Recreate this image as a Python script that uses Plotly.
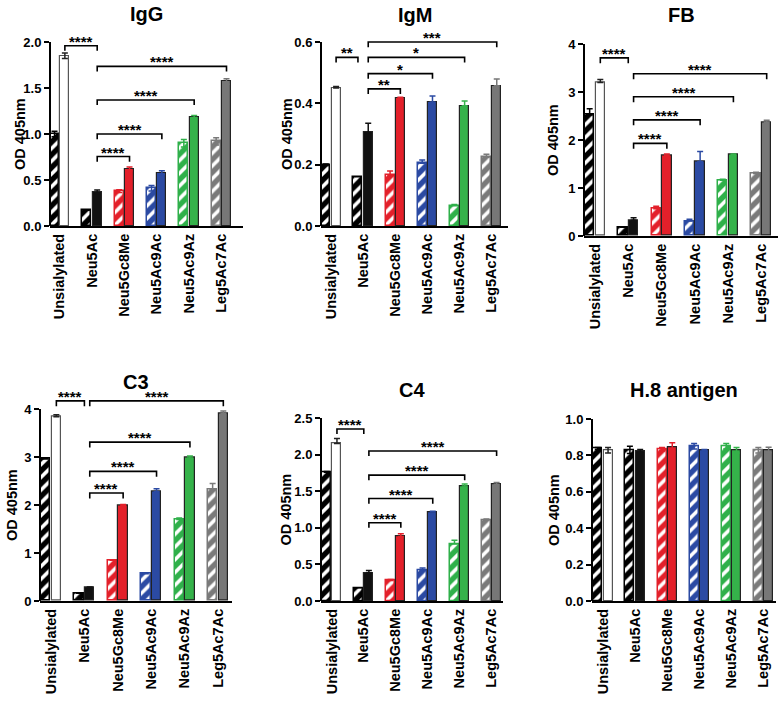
import plotly.graph_objects as go

categories = ["Unsialylated", "Neu5Ac", "Neu5Gc8Me", "Neu5Ac9Ac", "Neu5Ac9Az", "Leg5Ac7Ac"]

# ---------------- data ----------------
igg_hatched = [1.00, 0.17, 0.38, 0.41, 0.90, 0.92]
igg_hatched_err = [0.03, 0.0, 0.015, 0.03, 0.04, 0.04]
igg_solid = [1.85, 0.37, 0.62, 0.58, 1.18, 1.57]
igg_solid_err = [0.03, 0.02, 0.02, 0.02, 0.02, 0.03]
igg_yticks = [0.0, 0.5, 1.0, 1.5, 2.0]
igg_brackets = [(0, "s", 1, "s", 1.96, "****"), (1, "s", 5, "s", 1.735, "****"),
                (1, "s", 4, "s", 1.37, "****"), (1, "s", 3, "s", 1.0, "****"),
                (1, "s", 2, "s", 0.755, "****")]

igm_hatched = [0.197, 0.161, 0.167, 0.205, 0.066, 0.224]
igm_hatched_err = [0.005, 0.0, 0.012, 0.01, 0.004, 0.01]
igm_solid = [0.450, 0.305, 0.417, 0.404, 0.392, 0.457]
igm_solid_err = [0.005, 0.03, 0.003, 0.02, 0.016, 0.022]
igm_yticks = [0.0, 0.2, 0.4, 0.6]
igm_brackets = [(0, "s", 1, "h", 0.55, "**"), (1, "s", 5, "s", 0.60, "***"),
                (1, "s", 4, "s", 0.55, "*"), (1, "s", 3, "s", 0.497, "*"),
                (1, "s", 2, "s", 0.447, "**")]

fb_hatched = [2.52, 0.18, 0.57, 0.31, 1.16, 1.30]
fb_hatched_err = [0.13, 0.0, 0.05, 0.04, 0.02, 0.03]
fb_solid = [3.20, 0.33, 1.67, 1.55, 1.69, 2.37]
fb_solid_err = [0.06, 0.05, 0.04, 0.21, 0.02, 0.04]
fb_yticks = [0, 1, 2, 3, 4]
fb_brackets = [(0, "s", 1, "c", 3.71, "****"), (1, "s", 5, "s", 3.38, "****"),
               (1, "s", 4, "s", 2.90, "****"), (1, "s", 3, "s", 2.42, "****"),
               (1, "s", 2, "s", 1.93, "****")]

c3_hatched = [2.96, 0.16, 0.85, 0.57, 1.70, 2.32]
c3_hatched_err = [0.02, 0.0, 0.01, 0.01, 0.03, 0.13]
c3_solid = [3.84, 0.29, 1.99, 2.28, 2.98, 3.91]
c3_solid_err = [0.04, 0.0, 0.02, 0.06, 0.04, 0.05]
c3_yticks = [0, 1, 2, 3, 4]
c3_brackets = [(0, "s", 1, "c", 4.17, "****"), (1, "s", 5, "s", 4.17, "****"),
               (1, "s", 4, "s", 3.31, "****"), (1, "s", 3, "s", 2.70, "****"),
               (1, "s", 2, "s", 2.25, "****")]

c4_hatched = [1.76, 0.18, 0.28, 0.42, 0.78, 1.11]
c4_hatched_err = [0.01, 0.0, 0.015, 0.03, 0.05, 0.01]
c4_solid = [2.15, 0.385, 0.88, 1.22, 1.57, 1.59]
c4_solid_err = [0.07, 0.03, 0.04, 0.005, 0.03, 0.03]
c4_yticks = [0.0, 0.5, 1.0, 1.5, 2.0, 2.5]
c4_brackets = [(0, "s", 1, "c", 2.35, "****"), (1, "s", 5, "s", 2.05, "****"),
               (1, "s", 4, "s", 1.72, "****"), (1, "s", 3, "s", 1.40, "****"),
               (1, "s", 2, "s", 1.07, "****")]

h8_hatched = [0.838, 0.830, 0.834, 0.850, 0.850, 0.828]
h8_hatched_err = [0.005, 0.02, 0.01, 0.015, 0.015, 0.015]
h8_solid = [0.828, 0.825, 0.845, 0.828, 0.828, 0.830]
h8_solid_err = [0.015, 0.008, 0.025, 0.004, 0.015, 0.015]
h8_yticks = [0.0, 0.2, 0.4, 0.6, 0.8, 1.0]
h8_brackets = []

# ---------------- styles / layout ----------------
W, H = 782, 701
FONT = "Liberation Sans, Arial, sans-serif"
hatch_colors = ["#000000", "#000000", "#e3202a", "#2b4aa3", "#2fb04a", "#7a7a7a"]
solid_colors = ["#ffffff", "#111111", "#e3202a", "#2b4aa3", "#35b24a", "#777777"]
HATCH_OFF, SOLID_OFF, BAR_W = -0.30, 0.02, 0.28
side_x = {"h": HATCH_OFF + BAR_W / 2, "s": SOLID_OFF + BAR_W / 2, "c": 0.0}
EXT = 1.07

panels = [
    dict(title="IgG", h=igg_hatched, he=igg_hatched_err, s=igg_solid, se=igg_solid_err,
         yt=igg_yticks, br=igg_brackets, fmt=".1f", sym=True,
         px=(50, 243), py0=226, pytop=42, xr=(-0.30, 5.67), toff=30, title_y=14),
    dict(title="IgM", h=igm_hatched, he=igm_hatched_err, s=igm_solid, se=igm_solid_err,
         yt=igm_yticks, br=igm_brackets, fmt=".1f", sym=False,
         px=(321, 508), py0=226, pytop=42, xr=(-0.31, 5.51), toff=34, title_y=15),
    dict(title="FB", h=fb_hatched, he=fb_hatched_err, s=fb_solid, se=fb_solid_err,
         yt=fb_yticks, br=fb_brackets, fmt="d", sym=False,
         px=(584, 778), py0=236, pytop=44, xr=(-0.33, 5.50), toff=31, title_y=15),
    dict(title="C3", h=c3_hatched, he=c3_hatched_err, s=c3_solid, se=c3_solid_err,
         yt=c3_yticks, br=c3_brackets, fmt="d", sym=False,
         px=(40, 232), py0=601, pytop=409, xr=(-0.33, 5.42), toff=28, title_y=382),
    dict(title="C4", h=c4_hatched, he=c4_hatched_err, s=c4_solid, se=c4_solid_err,
         yt=c4_yticks, br=c4_brackets, fmt=".1f", sym=False,
         px=(321, 503), py0=601, pytop=418, xr=(-0.34, 5.36), toff=36, title_y=390),
    dict(title="H.8 antigen", h=h8_hatched, he=h8_hatched_err, s=h8_solid, se=h8_solid_err,
         yt=h8_yticks, br=h8_brackets, fmt=".1f", sym=True,
         px=(592, 776), py0=601, pytop=419, xr=(-0.34, 5.39), toff=38, title_y=390),
]

fig = go.Figure()
layout = dict(width=W, height=H, margin=dict(l=0, r=0, t=0, b=0, autoexpand=False),
              paper_bgcolor="white", plot_bgcolor="white", showlegend=False,
              font=dict(family=FONT, color="black"), bargap=0)
shapes, annotations = [], []

for i, p in enumerate(panels, start=1):
    xa = "x" if i == 1 else f"x{i}"
    ya = "y" if i == 1 else f"y{i}"
    xkey = "xaxis" if i == 1 else f"xaxis{i}"
    ykey = "yaxis" if i == 1 else f"yaxis{i}"
    ytop = p["yt"][-1]
    for g in range(len(categories)):
        # hatched bar
        fig.add_trace(go.Bar(
            x=[g], y=[p["h"][g]], xaxis=xa, yaxis=ya, offset=HATCH_OFF, width=BAR_W,
            marker=dict(color="white",
                        pattern=dict(shape="/", fgcolor=hatch_colors[g], bgcolor="white",
                                     fgopacity=1, size=9, solidity=0.6),
                        line=dict(color=hatch_colors[g], width=1.5)),
            error_y=dict(type="data", array=[p["he"][g]],
                         arrayminus=[p["he"][g] if p["sym"] else 0], symmetric=False,
                         color=hatch_colors[g], thickness=1.5, width=3),
            hoverinfo="skip"))
        # solid bar
        line_c = "#555555" if solid_colors[g] == "#ffffff" else "#222222"
        fig.add_trace(go.Bar(
            x=[g], y=[p["s"][g]], xaxis=xa, yaxis=ya, offset=SOLID_OFF, width=BAR_W,
            marker=dict(color=solid_colors[g], line=dict(color=line_c, width=1.2)),
            error_y=dict(type="data", array=[p["se"][g]],
                         arrayminus=[p["se"][g] if p["sym"] else 0], symmetric=False,
                         color=("#222222" if solid_colors[g] == "#ffffff" else solid_colors[g]),
                         thickness=1.5, width=3),
            hoverinfo="skip"))

    x0f, x1f = p["px"][0] / W, p["px"][1] / W
    yb = 1 - p["py0"] / H
    yt_px = p["py0"] - (p["py0"] - p["pytop"]) * EXT
    ytf = 1 - yt_px / H
    layout[xkey] = dict(domain=[x0f, x1f], anchor=ya, range=list(p["xr"]),
                        tickvals=list(range(len(categories))), ticktext=categories,
                        tickangle=-90, showline=True, linewidth=2, linecolor="black",
                        ticks="", showgrid=False, zeroline=False, fixedrange=True,
                        automargin=False,
                        tickfont=dict(family=FONT, size=14.5, weight="bold", color="black"))
    layout[ykey] = dict(domain=[yb, ytf], anchor=xa, range=[0, ytop * EXT],
                        tickvals=p["yt"], tickformat=p["fmt"], showline=False,
                        ticks="outside", ticklen=5, tickwidth=2, tickcolor="black",
                        showgrid=False, zeroline=False, fixedrange=True, automargin=False,
                        tickfont=dict(family=FONT, size=13, weight="bold", color="black"))
    # y axis line up to top tick
    shapes.append(dict(type="line", xref=f"{xa} domain", yref=ya, x0=0, x1=0, y0=0, y1=ytop,
                       line=dict(color="black", width=2)))
    # significance brackets
    tk = 0.028 * ytop
    for (ga, sa, gb, sb, yv, lab) in p["br"]:
        xa0 = ga + side_x[sa]
        xb0 = gb + side_x[sb]
        shapes.append(dict(type="path", xref=xa, yref=ya,
                           path=f"M {xa0},{yv - tk} L {xa0},{yv} L {xb0},{yv} L {xb0},{yv - tk}",
                           line=dict(color="black", width=1.6)))
        annotations.append(dict(text=lab, xref=xa, yref=ya, x=(xa0 + xb0) / 2, y=yv,
                                xanchor="center", yanchor="bottom", yshift=-6, showarrow=False,
                                font=dict(family=FONT, size=15, weight="bold", color="black")))
    # panel title
    annotations.append(dict(text=p["title"], xref=f"{xa} domain", x=0.5, yref="paper",
                            y=1 - p["title_y"] / H, xanchor="center", yanchor="middle",
                            showarrow=False,
                            font=dict(family=FONT, size=20, weight="bold", color="black")))
    # y axis title
    annotations.append(dict(text="OD 405nm", xref=f"{xa} domain", x=0, xshift=-p["toff"],
                            yref=ya, y=ytop / 2, xanchor="center", yanchor="middle",
                            textangle=-90, showarrow=False,
                            font=dict(family=FONT, size=14.5, weight="bold", color="black")))

layout["shapes"] = shapes
layout["annotations"] = annotations
fig.update_layout(**layout)
fig.write_html("out.html", config={"displayModeBar": False},
               post_script="document.body.style.margin='0px';"
                           "document.body.style.overflow='hidden';")
